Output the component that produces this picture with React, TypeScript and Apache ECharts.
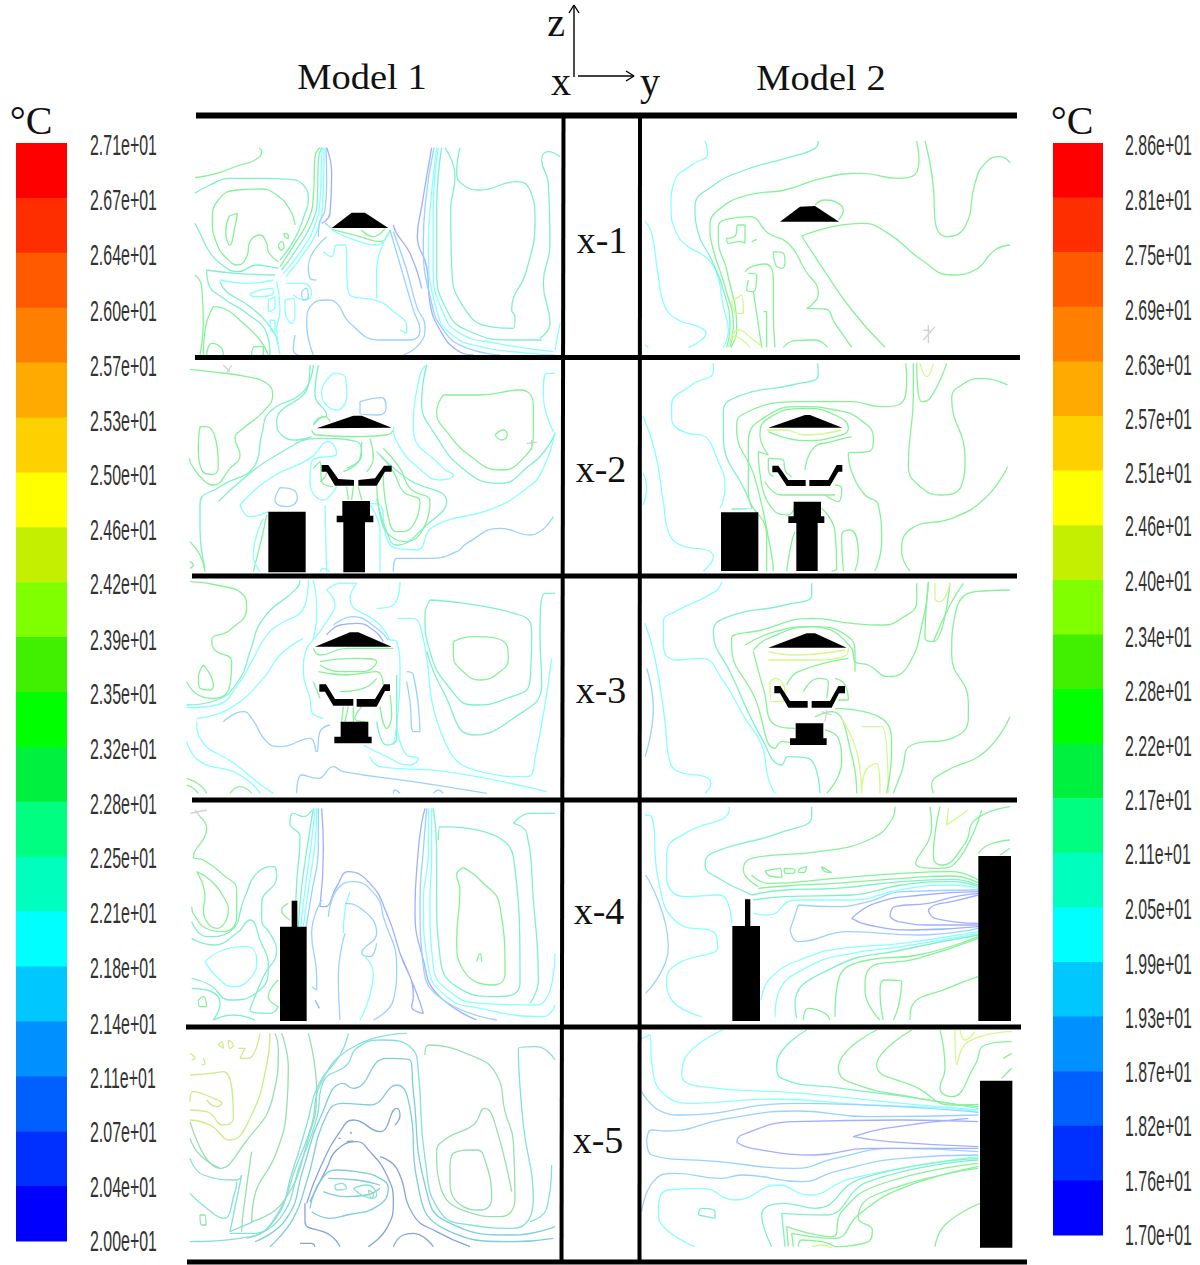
import React, { useEffect, useRef } from "react";
import * as echarts from "echarts";

const leftLabels = ["2.71e+01","2.67e+01","2.64e+01","2.60e+01","2.57e+01","2.53e+01","2.50e+01","2.46e+01","2.42e+01","2.39e+01","2.35e+01","2.32e+01","2.28e+01","2.25e+01","2.21e+01","2.18e+01","2.14e+01","2.11e+01","2.07e+01","2.04e+01","2.00e+01"];
const rightLabels = ["2.86e+01","2.81e+01","2.75e+01","2.69e+01","2.63e+01","2.57e+01","2.51e+01","2.46e+01","2.40e+01","2.34e+01","2.28e+01","2.22e+01","2.17e+01","2.11e+01","2.05e+01","1.99e+01","1.93e+01","1.87e+01","1.82e+01","1.76e+01","1.70e+01"];
const leftLabelY = [145,200,255,311,366,421,475,530,584,640,694,749,804,858,913,968,1024,1078,1132,1187,1241];
const rightLabelY = [145,200,255,310,365,419,473,526,581,637,691,746,800,854,909,964,1018,1072,1126,1181,1235];
const bandColors = ["#ff0000","#ff2e00","#ff5a00","#ff8000","#ffaa00","#ffd000","#ffff00","#c4f000","#80ff00","#40f000","#00ff00","#00f040","#00ff80","#00ffbf","#00ffff","#00c8ff","#0090ff","#0060ff","#0030ff","#0000ff"];
const rowLabels = ["x-1","x-2","x-3","x-4","x-5"];
const rowLabelPos = [[602,240],[601,469],[601,690],[599,911],[598,1140]];

const palette: Record<string,string> = {
  G:"#86f298", M:"#7ef2c6", C:"#8affff", L:"#9ad2ff", B:"#a2aeff", Y:"#d2fa8a", W:"#d0d0d0",
  T:"#86e0d6", U:"#96e0b0", O:"#cceC88", S:"#86a4d8", A:"#7eccdc",
};

type Contour = [string, number[], number?];
type Panel = { ox:number; oy:number; lines:Contour[]; solids:number[][] };

const box = (x0:number,y0:number,x1:number,y1:number) => [x0,y0,x1,y0,x1,y1,x0,y1];

const p1: Panel = { ox:180, oy:110, solids:[[455,354,515,308,555,308,625,354]], lines:[
["G",[45,203,110,190,180,165,225,150,245,125,237,113]],
["M",[45,250,90,225,150,205,240,205,330,208,370,225,385,270,375,310,345,385,300,450]],
["G",[345,345,330,300,290,255,240,237,170,240,115,270,97,330,110,400,140,445,175,465,200,440,210,395,240,375,260,400,265,425,295,455]],
["G",[148,318,172,310,165,350,150,405,137,365],1],
["G",[295,405,305,395,312,412,303,420],1],
["G",[312,370,325,375,325,385,315,382],1],
["M",[45,340,60,370,85,420,120,460,175,485,230,465,270,470,295,475]],
["G",[300,470,345,400,385,330,400,260,405,140,420,113]],
["M",[305,480,355,410,395,340,412,270,415,150,425,113]],
["C",[310,490,365,420,405,345,420,270,425,140,428,113]],
["C",[318,500,375,425,412,360,428,280,432,140,432,113]],
["L",[415,380,418,340,435,300,440,220,438,113]],
["B",[425,340,450,310,455,190,440,113]],
["M",[80,480,170,490,285,495]],
["M",[80,480,85,520,130,565,200,610,260,670,270,735]],
["C",[120,510,200,520,280,510]],
["M",[120,515,140,545,210,590,270,650,295,700]],
["G",[45,495,65,530,70,640,60,735]],
["G",[100,590,130,595,190,640,240,690,265,735]],
["G",[100,590,75,660,70,735]],
["G",[80,735,95,700,125,715,130,735]],
["G",[215,735,225,710,250,710,250,735]],
["C",[210,550,275,535,280,550,220,560],1],
["C",[265,570,285,560,285,590,265,605],1],
["C",[270,630,285,635,285,670,272,660],1],
["C",[315,570,340,565,345,600,335,640,315,600],1],
["C",[290,515,300,600,290,660,300,735]],
["C",[320,520,370,520,395,550,375,570,340,555]],
["L",[365,545,378,535,385,560,370,570],1],
["L",[345,675,340,720,355,735]],
["G",[545,360,580,380,615,355]],
["G",[455,358,540,380,600,395,630,360]],
["C",[455,360,510,385,590,405,625,370]],
["L",[440,380,385,470,390,505,410,510]],
["C",[430,425,455,440,470,405,495,405,505,545,600,575,635,600,680,650,680,670,660,660]],
["C",[625,370,590,480,590,565]],
["L",[640,365,680,480,710,590,735,650,720,700,670,735]],
["L",[630,360,665,480,700,600,720,660,690,690,600,690,510,640,470,580,440,570,400,580,380,640,400,735]],
["B",[640,345,650,370,690,430,725,535]],
["L",[435,340,455,355]],
["B",[755,113,725,290,712,380,740,470,750,580,780,660,830,720,880,735]],
["L",[762,113,735,290,730,400,755,580,790,660,850,710,960,735]],
["C",[770,113,750,300,745,420,770,600,810,670,900,710,1050,730,1125,735]],
["C",[775,113,760,300,760,480,790,610,840,670,950,700,1120,725]],
["M",[785,113,770,300,770,480,800,600,860,660,1000,690,1085,690]],
["M",[795,113,825,200,812,300,815,470,850,590,930,650,1000,655,1005,620,995,600,1040,480,1065,330,1050,240,1010,215,900,240,850,225,830,190,840,113]],
["M",[1140,140,1105,125,1085,150,1105,220,1110,400,1090,520,1110,640,1080,685]],
["C",[1140,640,1125,720]],
]};

const p2: Panel = { ox:635, oy:110, solids:[[435,335,495,290,540,288,612,335]], lines:[
["C",[210,93,218,130,170,165,120,210,108,290,125,370,160,410,210,440,245,490,265,590,280,660,265,712]],
["C",[30,335,50,370,70,500,90,590,130,630,190,650,213,670,185,700,160,712]],
["C",[30,705,40,712]],
["M",[550,93,540,115,470,140,330,180,230,230,180,290,190,370,230,450,265,540,285,650,275,712]],
["G",[845,93,852,150,830,200,790,205,680,190,560,205,450,240,340,255,250,300,225,350,235,420,270,530,295,650,285,712]],
["G",[287,712,305,660,275,480,250,390,250,350,290,325,345,320,400,370,460,400,510,480,550,550,525,590,515,595,570,597,600,640,650,712]],
["G",[275,385,300,378,310,345,330,345,330,400,315,395,280,400],1],
["G",[350,395,365,388]],
["G",[415,425,445,430,450,455,440,475,420,460],1],
["G",[330,485,350,470,390,462,415,510,415,600,420,712]],
["G",[340,490,365,495,355,545,335,540,340,510]],
["G",[355,545,365,610,380,712]],
["G",[385,605,395,605,395,712]],
["Y",[290,575,320,555,325,610,305,610],1],
["Y",[285,690,310,660,355,690,385,712]],
["Y",[280,712,300,680,345,712]],
["G",[445,712,480,692,540,690,578,712]],
["G",[870,93,895,230,900,330,935,380,990,350,1020,220,1050,160,1095,140,1125,158]],
["G",[500,378,680,340,760,370,860,450,950,495,1020,480,1080,420,1125,405]],
["G",[500,378,560,470,650,600,750,712]],
["G",[540,285,570,270,610,280,625,300,610,330]],
["W",[880,645,880,700]],["W",[865,690,900,650]],["W",[865,660,885,662]],
]};

const p3: Panel = { ox:180, oy:355, solids:[
[410,220,520,182,545,182,635,218],
[425,330,445,330,475,372,522,375,522,392,465,392,440,350,425,350],
[535,375,585,370,612,332,635,332,635,350,615,350,590,392,535,392],
box(265,470,377,652),
[487,438,570,438,570,482,580,482,580,502,555,502,555,652,490,652,490,502,470,502,470,482,487,482],
], lines:[
["G",[30,43,90,50,200,65,260,85,278,120,250,170,190,220,165,250,180,300,150,340,100,390,70,375,35,330,28,310]],
["G",[60,215,80,215,115,330,100,358,65,345,55,270],1],
["M",[400,30,370,110,270,170,245,240,225,330,120,395,60,445,60,520,75,640]],
["C",[460,55,495,65,500,120,470,165,435,145,425,110],1],
["L",[540,140,605,128,618,160,595,180,540,175],1],
["M",[390,30,385,90,290,200,305,240,350,255,395,245]],
["M",[415,30,405,120,440,180,415,190,400,210]],
["G",[400,210,435,185,450,200]],
["G",[395,225,410,240,530,245,620,240,640,225]],
["M",[115,440,180,380,290,300,420,250,530,260,545,300,500,340]],
["C",[180,450,270,370,390,310,445,260,470,295,395,320,390,380,430,435,470,395]],
["C",[180,450,210,485,265,470]],
["L",[300,398,340,405,352,430,320,455,285,435],1],
["G",[400,340,420,320,425,380,460,395]],
["G",[420,380,440,350,430,330]],
["C",[640,215,650,260,740,360,780,375,820,360,790,340,700,220,720,60,740,30]],
["M",[740,30,725,140,760,230,860,350,960,385,1050,330,1100,280,1125,235]],
["G",[790,120,900,120,1020,105,1060,150,1060,240,1020,320,960,345,880,310,800,230,770,170],1],
["G",[945,240,970,225,982,240,965,255],1],
["C",[1125,55,1100,55,1090,120,1120,230]],
["C",[1125,232,1085,350,1040,400,940,460,760,515,710,585,650,580,620,550,600,450,570,445]],
["G",[610,280,660,340,690,400,750,440,680,560,640,550,600,480,590,380]],
["G",[600,300,640,350,670,410,720,440,670,530,650,530,620,460,610,360]],
["M",[590,290,680,370,800,440,740,510,650,570,620,530,590,430]],
["G",[545,260,540,310,490,350]],
["G",[570,250,580,310,560,350]],
["G",[500,395,505,435]],["G",[520,395,515,435]],["G",[535,395,545,435]],
["L",[640,650,650,610,750,610,830,590,860,565,960,520,1050,540,1120,485]],
["G",[30,560,60,600,75,650]],["G",[30,620,40,630,30,640]],
["G",[220,650,245,550,260,480]],
["C",[240,650,220,600,250,490]],
["C",[440,650,435,450]],
["C",[600,650,600,530,570,450]],
["C",[420,650,430,640,450,650]],
["W",[130,30,150,50]],["W",[155,30,140,55]],["W",[1040,265,1070,262]],["W",[1055,255,1055,285]],
]};

const p4: Panel = { ox:635, oy:355, solids:[
[400,218,510,180,525,180,622,218],
[412,332,430,332,460,375,512,375,512,393,455,393,428,352,412,352],
[523,375,580,375,605,330,622,330,622,350,610,350,585,393,523,393],
box(258,472,370,648),
[476,440,558,440,558,484,568,484,568,504,548,504,548,648,484,648,484,504,460,504,460,484,476,484],
], lines:[
["C",[235,25,235,50,170,90,110,150,110,190,160,235,200,240,250,320,270,400,255,460]],
["C",[25,185,60,290,85,440,100,530,150,575,215,585,235,605,205,648]],
["C",[25,355,35,400,25,450]],
["M",[548,25,550,60,470,90,320,120,265,170,265,240,340,430,350,460,290,462]],
["G",[812,25,815,70,790,150,740,155,650,140,490,140,320,180,305,220,360,370,410,600,415,648]],
["G",[395,648,395,540,340,410,340,260,400,180,500,155,600,165,670,190,715,250,700,290,640,295,650,350,690,420,730,450,740,560,720,648]],
["G",[510,345,535,280,590,260,650,245]],
["G",[400,230,510,257,620,240,640,220,600,180,510,160,400,190,375,240,400,300,370,290,372,330,420,470,460,480,480,450]],
["Y",[395,225,450,225,510,240,620,225]],
["G",[400,310,445,315,450,345,470,365]],
["G",[400,310,400,345,415,365]],
["G",[390,380,440,420,600,420]],
["G",[600,390,620,400,610,440,570,420]],
["G",[455,648,470,560,480,530]],
["G",[590,648,605,640,600,530,560,460]],
["G",[625,648,620,540,645,525,670,600,660,648]],
["G",[835,25,835,120,820,330,850,390,920,420,980,390,990,310,950,130,980,90,1040,70,1118,90]],
["G",[845,25,860,140,885,130,935,25]],
["Y",[855,25,875,65,895,25]],
["G",[1118,335,1050,430,950,490,830,520,800,590,825,648]],
]};

const p5: Panel = { ox:180, oy:575, solids:[
[405,215,510,172,535,172,635,215],
[418,328,438,328,465,372,520,372,520,392,460,392,435,350,418,350],
[530,372,585,372,612,328,630,328,630,348,615,348,590,395,530,395],
[482,440,565,440,565,485,575,485,575,505,463,505,463,485,482,485],
], lines:[
["G",[30,20,110,30,190,60,200,100,150,165,95,195,100,220,155,260,150,330,100,370,55,360,20,320]],
["G",[70,270,100,330,90,345,60,340,55,310],1],
["M",[20,390,110,375,180,310,210,230,250,130,350,40,360,15]],
["C",[385,15,375,90,270,170,215,260,180,320,110,390,20,398]],
["C",[50,430,150,400,250,310,300,240,370,190]],
["C",[400,15,410,90,400,190,380,220,370,290,390,370,395,410,430,430]],
["C",[440,45,480,25,530,25,510,70,600,150,630,195]],
["C",[440,45,465,90,450,125,400,195]],
["L",[460,150,520,125,590,160,625,195]],
["B",[440,180,480,150,530,145,580,165,610,200]],
["C",[630,195,650,200,660,300,650,450,640,510]],
["G",[400,220,420,240,500,220,640,220]],
["G",[420,260,520,250,590,260,550,290,480,290,420,270]],
["G",[415,290,500,300,590,290,610,330]],
["G",[400,320,420,370]],
["G",[480,350,550,340,590,310]],
["G",[490,395,485,440]],["G",[505,395,495,440]],["G",[520,395,520,440]],["G",[545,395,525,430,555,440]],
["G",[600,395,620,460,635,420,630,360]],
["M",[590,440,620,510,650,490,650,300]],
["C",[650,450,680,540,715,550,690,570,610,540,550,510]],
["L",[680,290,700,300,720,470,700,470,690,380,680,320]],
["L",[130,440,190,410,215,430,260,500,300,515,390,490,410,530,420,470,450,450]],
["C",[50,440,60,490,170,570,230,620,280,655]],
["C",[20,500,60,560,160,590,220,630,240,655]],
["G",[20,610,60,630,80,655]],["G",[20,630,40,640,55,655]],["G",[150,655,180,635,215,655]],
["L",[350,655,365,600,415,610,460,575,490,590,700,620,920,655]],
["L",[640,655,645,645,660,655]],["L",[760,655,775,645,790,655]],
["C",[590,100,640,90,660,20]],
["C",[650,130,690,130,720,150,790,490,900,590,1040,605,1065,550,1115,250]],
["M",[1125,55,1095,55,1080,180,1085,330,1000,430,880,480,790,350,740,230]],
["M",[750,75,1020,120,1055,170,1050,320,980,370,880,390,810,340,750,230,735,120],1],
["G",[820,200,880,185,980,210,985,250,960,290,900,315,850,290,820,240],1],
["C",[570,545,600,575,800,590,1100,650]],
]};

const p6: Panel = { ox:635, oy:575, solids:[
[400,218,515,175,540,175,635,218],
[418,333,436,333,465,378,518,378,518,398,460,398,435,355,418,355],
[530,378,585,378,610,333,630,333,630,355,612,355,590,398,530,398],
[482,445,565,445,565,490,575,490,575,510,465,510,465,490,482,490],
], lines:[
["C",[260,20,240,50,120,110,85,140,85,210,125,255,200,250,260,310,330,430,380,510,400,610,420,655]],
["C",[30,145,60,250,90,440,100,540,130,590,210,605,228,625,210,655]],
["L",[35,280,55,400,30,545]],
["M",[530,25,530,60,450,90,280,125,235,170,290,300,380,490,440,570,460,545,520,550,555,655]],
["G",[845,25,845,80,800,130,740,150,650,145,530,130,380,165,290,190,290,210,360,370,420,520,440,500,490,510]],
["G",[330,210,420,170,530,155,640,185,660,240,660,290]],
["G",[355,225,400,190,530,155,650,220,660,260,700,270,760,305,820,270,865,130,880,25]],
["Y",[400,230,470,240,630,225]],
["Y",[400,255,520,255,635,240,640,220]],
["Y",[405,320,420,310,450,350,440,380,410,380],1],
["G",[455,330,490,290,640,250]],
["G",[505,350,550,310,580,320,575,370]],
["G",[600,310,630,330,640,375,610,375]],
["G",[355,230,385,340,420,450,480,460]],
["G",[540,425,590,410,650,540,665,655]],
["Y",[680,455,740,455,760,655]],
["Y",[680,655,690,590,725,565,735,655]],
["G",[600,400,740,430,770,520,755,655]],
["Y",[680,655,665,530,620,430]],
["G",[1125,45,1020,50,960,120,950,240,1000,380,1000,430,950,490,830,510,800,590,775,655]],
["G",[1125,425,1050,530,930,590,890,630,895,655]],
["G",[880,20,870,190,895,200,945,25]],
["Y",[900,25,900,70,915,80,945,25]],
["G",[985,25,945,90,895,200]],
["G",[575,655,620,560,610,490,570,465]],
["W",[560,410,590,420]],["W",[575,405,570,440]],
]};

const p7: Panel = { ox:180, oy:800, solids:[
[335,302,352,302,352,380,380,380,380,663,300,663,300,380,335,380],
], lines:[
["G",[60,50,80,85,40,170,70,180,130,225,170,270,170,350,130,395,90,390,40,340,35,320]],
["G",[50,215,90,240,130,290,145,330,110,385,70,330,75,290],1],
["M",[35,365,80,410,150,395,195,290,230,220,280,200,290,230,245,310,245,360,270,400,290,450,250,530,225,590,210,630,270,640,295,620]],
["C",[75,485,130,450,200,440,230,480,215,530,160,560,110,530],1],
["M",[35,415,100,435,170,400,210,360,240,420,265,500,240,570,150,600,90,555,35,535]],
["M",[35,565,80,570,120,610,100,660]],
["G",[55,600,70,590,80,620,60,620],1],
["M",[100,660,160,645,225,660]],
["G",[295,540,265,590,295,620]],
["G",[325,310,305,330,330,360]],
["M",[395,30,370,50,340,40,330,70,360,110,350,250,345,380]],
["M",[400,25,385,120,365,260,355,380]],
["C",[405,25,395,120,375,270,362,380]],
["C",[410,25,405,130,385,270,370,380]],
["L",[415,25,415,140,395,280,378,380]],
["B",[425,25,430,150,420,320,435,320,470,260,505,215,570,250,620,340,660,460,700,590,695,620,730,640,710,580,660,460]],
["L",[425,300,395,400,410,530,410,570,395,560]],
["B",[405,600,418,625]],
["L",[445,350,470,270,520,245,590,290,610,350,650,500,640,600,580,660]],
["C",[510,275,495,330,490,400]],
["L",[495,310,535,320,590,400,545,460,570,470,590,430]],
["L",[480,660,475,530,495,400]],
["C",[540,660,580,520,545,460]],
["B",[735,25,725,70,715,150,705,330,730,480,770,580,890,660]],
["L",[740,25,730,150,720,300,730,500,790,600,950,660]],
["C",[745,25,745,160,730,300,745,500,800,590,900,625,1090,650,1125,615]],
["C",[755,25,755,170,750,300,760,500,810,575,900,610,1070,615,1125,460]],
["M",[760,25,770,150,770,280,780,470,830,560,950,590,1020,550,1000,170,780,80,775,120]],
["G",[850,203,900,240,960,320,975,520,940,555,850,510,830,420,840,270,830,225],1],
["G",[890,485,900,460,905,485]],
["M",[1000,70,1050,40,1125,40]],
["M",[1000,70,1040,100,1060,300,1075,540,1050,610]],
["W",[30,40,80,30]],["W",[45,30,60,50]],
]};

const p8: Panel = { ox:635, oy:800, solids:[
[330,298,346,298,346,378,375,378,375,663,292,663,292,378,330,378],
box(1030,168,1128,663),
], lines:[
["C",[30,45,50,50,70,240,130,370,240,400,248,440,130,490,95,540,110,600,200,650]],
["L",[32,225,100,440,32,580]],
["C",[283,20,280,40,150,100,95,160,95,230,150,290,250,285,285,330,290,370]],
["M",[530,20,530,50,430,100,230,160,210,195,260,240,340,280,350,285]],
["G",[780,20,770,60,700,120,550,155,350,175,325,210,370,260]],
["G",[390,213,435,205,440,232,405,228],1],
["G",[448,205,480,210,475,220,450,220],1],
["G",[495,205,515,200,505,218,490,215],1],
["G",[560,200,590,218,570,215],1],
["G",[350,225,400,250,600,235,800,220,950,215,1030,240]],
["G",[370,265,450,258,600,250,800,235,950,228,1030,248]],
["M",[350,285,450,270,600,265,800,245,950,238,1030,255]],
["M",[355,300,450,290,650,285,800,255,950,245,1030,260]],
["C",[355,340,400,345,480,300,650,300,800,268,950,255,1030,265]],
["L",[490,315,600,320,700,305,800,275,1030,270]],
["L",[465,390,490,315]],
["B",[650,355,720,310,860,285,1030,275]],
["B",[650,355,700,375,830,390,1030,380]],
["B",[765,350,780,320,880,310,960,290,1030,280]],
["B",[765,350,790,365,900,375,1030,375]],
["B",[880,330,900,315,950,305,1030,285]],
["B",[880,330,900,355,1030,370]],
["L",[465,390,490,425,640,395,850,405,1030,385]],
["C",[378,600,410,530,520,470,620,445,800,430,1030,395]],
["C",[420,650,430,580,520,500,650,460,800,440,1030,400]],
["M",[485,655,480,610,600,500,800,450,1030,405]],
["G",[600,650,610,540,700,480,850,465,1030,410]],
["G",[735,660,690,570,700,510,850,475,1030,415]],
["G",[505,660,520,625,570,640,585,660]],
["G",[745,660,735,580,750,540,800,545,790,620,775,660]],
["G",[825,660,830,620,950,560,1030,530]],
["G",[885,20,890,80,842,190,910,205,960,190,1040,30]],
["G",[915,20,895,170,920,195,990,130,1020,60,1125,20]],
["Y",[940,25,935,75,1000,30]],
["G",[1030,160,1060,135,1125,120]],
["G",[1095,165,1125,145]],
]};

const p9: Panel = { ox:180, oy:1025, solids:[], lines:[
["O",[30,150,90,145,130,140,160,280,130,300,80,260,30,255]],
["O",[30,230,40,200,100,220,125,235,110,245,80,225]],
["O",[115,60,125,50,130,70],1],["O",[145,45,160,60,150,70],1],
["O",[30,85,45,100,35,105]],["O",[70,100,75,115,65,120]],
["O",[175,70,195,70,180,100,205,100,240,25]],
["O",[30,285,90,300,150,345,210,280,260,120,270,25]],
["U",[30,290,120,430,190,360,280,210,295,70,285,25]],
["U",[30,340,60,390,120,430]],
["T",[30,400,70,450,170,465,185,450,150,620,220,590]],
["U",[305,25,325,130,320,250,290,380,220,530,215,590,310,530,385,340,410,200,385,25]],
["U",[215,380,190,560,185,620]],
["T",[30,505,80,550,130,580,165,500,170,470]],
["T",[30,650,180,640,280,590,340,430,380,300,415,180,480,90,505,25]],
["T",[150,625,220,625,290,570,350,420,395,300,420,180,530,60,680,25]],
["T",[200,640,300,580,360,420,410,280,430,170,500,120,530,70,600,45,700,75,715,140,735,400,780,560,870,600,1000,610,1060,520,1030,300,1015,70,1070,65,1125,105]],
["A",[225,650,320,580,370,430,420,280,490,175,520,190,620,100,690,105,700,200,735,480,800,590,1000,630,1125,605]],
["A",[270,665,340,580,380,470,440,270,490,235,570,240,650,180,690,250,710,460,790,610,1000,650,1120,640]],
["U",[735,90,745,60,870,90,950,150,975,260,1000,350,1005,520,960,575,860,560,780,480,770,380,800,340,880,300,915,250,940,280,995,500]],
["U",[810,430,820,385,890,375,910,390,935,520,900,555,850,545,810,470],1],
["T",[1115,420,1100,550,1050,590]],
["U",[60,570,75,570,78,600,65,600],1],
["S",[380,535,420,430,480,320,520,285,600,320,650,250,660,270,645,300]],
["S",[375,535,375,590,450,630,480,665]],
["S",[565,665,620,610,640,530,620,450,570,380,530,350,470,375,440,430,390,530]],
["S",[600,395,650,430,700,570,770,620,870,665]],
["S",[640,665,670,630,700,625,760,665]],
["S",[360,655,395,655,405,665]],
["S",[475,340,482,340]],["S",[510,322,516,325]],["S",[500,350,520,348]],
["A",[395,560,450,580,500,570,590,545,625,490,600,460,530,440,470,435,420,470,390,550]],
["A",[430,500,500,515,560,510,600,490]],
["A",[445,460,530,465,600,480]],
["T",[465,480,485,475,500,490,470,495],1],
["T",[520,490,560,480,590,510,575,520],1],
["U",[565,495,580,510,575,520],1],
]};

const p10: Panel = { ox:635, oy:1025, solids:[box(1035,167,1132,668)], lines:[
["C",[20,40,45,30,50,110,90,210,180,235,400,222,700,240,950,250,1030,262]],
["C",[263,15,150,100,140,150,200,185,500,205,800,235,1030,255]],
["M",[515,15,425,120,440,160,620,190,850,220,1030,250]],
["G",[725,15,610,130,640,170,850,220,1030,245]],
["G",[830,15,725,120,850,190,950,240,1030,238]],
["G",[915,15,930,130,915,190,950,215,1020,120,1050,60,1130,50]],
["Y",[960,15,965,120,1000,50,1130,20]],
["Y",[975,15,990,45,1020,20]],
["G",[1105,100,1130,85]],["G",[1100,160,1130,130]],
["L",[20,200,80,260,140,270,480,235,1030,262]],
["L",[20,560,55,470,120,445,260,460,320,450,500,470,600,440,800,400,1030,390]],
["L",[35,345,50,315,90,318,280,280,490,258,700,275,1030,270]],
["L",[35,345,50,390,250,410,480,430,600,400,780,370,1030,380]],
["B",[305,352,320,330,480,290,800,285,1030,290]],
["B",[305,352,350,370,540,390,700,370,1030,370]],
["B",[655,335,750,310,1000,280]],
["B",[655,335,760,350,1030,365]],
["C",[180,665,90,610,70,560,100,495,200,490,300,525,430,480,520,510,650,460,1030,395]],
["M",[410,665,380,570,450,535,540,550,680,460,1030,400]],
["M",[450,665,440,565,570,570,700,470,1030,405]],
["G",[460,665,455,605,590,635,620,560,730,480,1030,415]],
["G",[475,665,470,625,600,640,670,570,800,490,1030,425]],
["G",[490,665,500,645,560,650,600,665]],
["G",[600,665,700,650,712,615,670,580,720,510,1030,430]],
["Y",[530,665,560,660,590,668]],
["M",[190,570,200,550,240,560,240,580],1],
["G",[900,665,930,600,1035,535]],
]};

const panels = [p1,p2,p3,p4,p5,p6,p7,p8,p9,p10];

const rules: [number,number,number,number,number][] = [
  [196,115.5,1017,115.5,6],[195,357.5,1020,357.5,5],[192,576,1017,576,5],[192,800,1017,800,5],
  [186,1027,1021,1027,5],[187,1262,1027,1262,5],[563.5,115,561.5,1262,4],[640,115,639.5,1262,4],
];
const arrows: number[][] = [
  [574,77,574,5],[569,13,574,5,579,13],[578,76,634,76],[626,71,634,76,626,81],
];

function App() {
  const ref = useRef<HTMLDivElement>(null);
  useEffect(() => {
    const chart = echarts.init(ref.current!, undefined, { renderer: "svg" });
    const lineSeries:any[] = [];
    const mkLine = (data:number[][], color:string, width:number, smooth:number) => ({
      type:"line", data, symbol:"none", smooth, silent:true, clip:false, animation:false, z:2,
      lineStyle:{ color, width }, emphasis:{ disabled:true },
    });
    const solids:number[][] = [];
    panels.forEach(p => {
      p.lines.forEach(([c,pts,closed]) => {
        const d:number[][] = [];
        for (let i=0;i<pts.length;i+=2) d.push([p.ox+pts[i]/3,p.oy+pts[i+1]/3]);
        if (closed) d.push(d[0]);
        lineSeries.push(mkLine(d,palette[c],1.3,d.length>2?0.5:0));
      });
      p.solids.forEach(s => solids.push(s.map((v,i)=> i%2===0 ? p.ox+v/3 : p.oy+v/3)));
    });
    rules.forEach(([a,b,c,d,w]) => lineSeries.push({...mkLine([[a,b],[c,d]],"#000",w,0), z:5}));
    arrows.forEach(a => {
      const d:number[][] = []; for (let i=0;i<a.length;i+=2) d.push([a[i],a[i+1]]);
      lineSeries.push({...mkLine(d,"#000",1.4,0), z:5});
    });
    const bars:number[][] = [];
    bandColors.forEach((_,i) => {
      bars.push([16,67,143+i*54.9,143+(i+1)*54.9,i]);
      bars.push([1053,1103,143+i*54.6,143+(i+1)*54.6,i]);
    });
    const tick = (t:string,x:number,y:number) => ({
      type:"text", x, y, scaleX:0.55, silent:true,
      style:{ text:t, fill:"#333", font:'29px "Liberation Sans"', textAlign:"left", textVerticalAlign:"middle" },
    });
    const serif = (t:string,x:number,y:number,size:number,sx=1) => ({
      type:"text", x, y, scaleX:sx, silent:true,
      style:{ text:t, fill:"#111", font:`${size}px "Liberation Serif"`, textAlign:"center", textVerticalAlign:"middle" },
    });
    chart.setOption({
      animation:false,
      backgroundColor:"#fff",
      grid:{ left:0, top:0, width:1200, height:1265 },
      xAxis:{ type:"value", min:0, max:1200, show:false },
      yAxis:{ type:"value", min:0, max:1265, inverse:true, show:false },
      series:[
        ...lineSeries,
        { type:"custom", silent:true, z:3, clip:false, data:solids.map((s,i)=>[i]),
          renderItem:(_:any,api:any)=>{
            const s = solids[api.value(0)];
            const points:number[][] = [];
            for (let i=0;i<s.length;i+=2) points.push(api.coord([s[i],s[i+1]]));
            return { type:"polygon", shape:{ points }, style:{ fill:"#000" } };
          } },
        { type:"custom", silent:true, z:3, clip:false, data:bars,
          renderItem:(_:any,api:any)=>{
            const a = api.coord([api.value(0),api.value(2)]);
            const b = api.coord([api.value(1),api.value(3)]);
            return { type:"rect", shape:{ x:a[0], y:a[1], width:b[0]-a[0], height:b[1]-a[1]+0.5 }, style:{ fill:bandColors[api.value(4)] } };
          } },
      ],
      graphic:[
        ...leftLabels.map((t,i)=>tick(t,90,leftLabelY[i])),
        ...rightLabels.map((t,i)=>tick(t,1125,rightLabelY[i])),
        ...rowLabels.map((t,i)=>serif(t,rowLabelPos[i][0],rowLabelPos[i][1],38)),
        serif("Model 1",362,77,36,1.07),
        serif("Model 2",821,78,36,1.07),
        serif("°C",31,120,40),
        serif("°C",1072,120,40),
        serif("z",556,22,40),
        serif("x",561,81,40),
        serif("y",650,81,40),
      ],
    });
    return () => chart.dispose();
  }, []);
  return <div ref={ref} style={{ position:"absolute", left:0, top:0, width:1200, height:1265 }} />;
}

export default App;
